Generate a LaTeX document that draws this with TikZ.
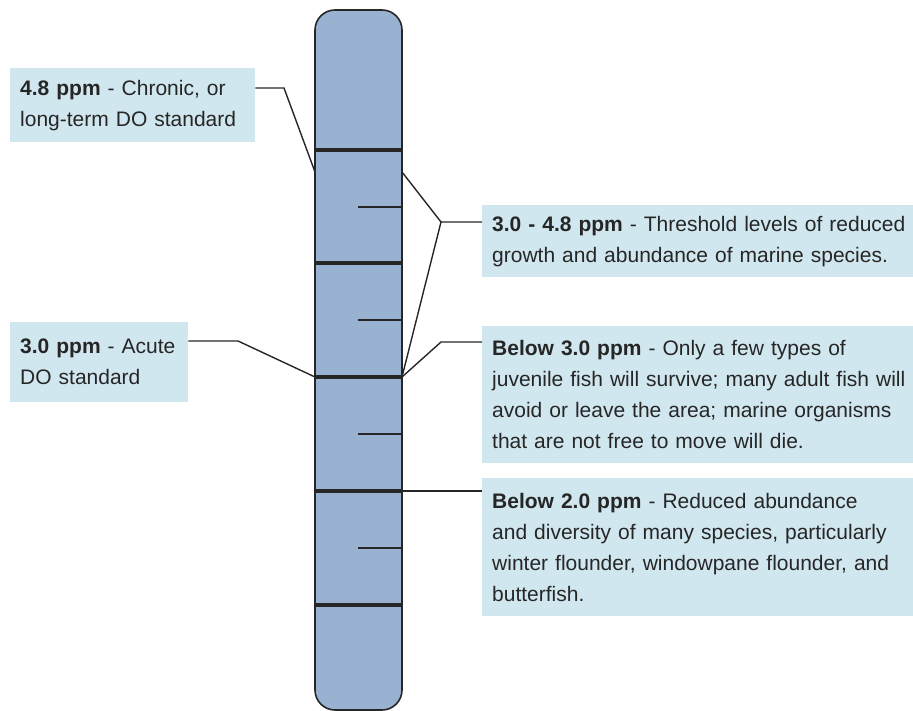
\documentclass[tikz,border=0pt]{standalone}
\usepackage{fontspec}
\setmainfont{Liberation Sans}
\definecolor{tube}{HTML}{99B2D1}
\definecolor{infobg}{HTML}{D1E7EF}
\definecolor{ink}{HTML}{262626}
\tikzset{
  infobox/.style={fill=infobg, anchor=north west, inner xsep=10pt, inner ysep=0pt,
                  align=left, text=ink, font=\fontsize{21}{31}\selectfont},
  column/.style={fill=tube, draw=ink, line width=1.6pt, rounded corners=20pt,
                 anchor=north west, outer sep=0pt, minimum width=87pt, minimum height=700pt},
  level/.style={line width=3.4pt, draw=ink},
  tick/.style={line width=1.4pt, draw=ink},
  link/.style={line width=1.4pt, draw=ink}
}
\begin{document}
\begin{tikzpicture}[x=1pt, y=-1pt]
      \useasboundingbox (0, 0) rectangle (913, 711);
      % the oxygen column
      \node[column] (column) at (315, 10) {};
      \foreach \y in {150, 263, 377, 491, 605}
        \draw[level] (column.west |- 0, \y) -- (column.east |- 0, \y);
      \foreach \y in {207, 320, 434, 548}
        \draw[tick] (358, \y) -- (column.east |- 0, \y);
      % labels
      \node[infobox, minimum width=245pt, minimum height=74pt, text width=225pt] (chronic) at (10, 68)
        {\textbf{4.8 ppm} - Chronic, or\\long-term DO standard};
      \node[infobox, minimum width=178pt, minimum height=80pt, text width=158pt] (acute) at (10, 322)
        {\textbf{3.0 ppm} - Acute\\DO standard};
      \node[infobox, minimum width=440pt, minimum height=72pt, text width=420pt] (threshold) at (482, 205)
        {\textbf{3.0 - 4.8 ppm} - Threshold levels of reduced\\growth and abundance of marine species.};
      \node[infobox, minimum width=440pt, minimum height=137pt, text width=420pt] (belowthree) at (482, 326)
        {\textbf{Below 3.0 ppm} - Only a few types of\\juvenile fish will survive; many adult fish will\\avoid or leave the area; marine organisms\\that are not free to move will die.};
      \node[infobox, minimum width=440pt, minimum height=138pt, text width=420pt] (belowtwo) at (482, 478)
        {\textbf{Below 2.0 ppm} - Reduced abundance\\and diversity of many species, particularly\\winter flounder, windowpane flounder, and\\butterfish.};
      % connectors
      \coordinate (k48) at (284, 88);
      \coordinate (m48) at (315, 172);
      \coordinate (k30) at (238, 341);
      \coordinate (m30) at (315, 377);
      \coordinate (kth) at (441, 222);
      \coordinate (kb3) at (441, 342);
      \coordinate (r48) at (402, 172);
      \coordinate (r30) at (402, 377);
      \coordinate (r20) at (402, 491);
      \draw[link] (chronic.east |- k48) -- (k48) -- (m48);
      \draw[link] (acute.east |- k30) -- (k30) -- (m30);
      \draw[link] (threshold.west |- kth) -- (kth) -- (r48);
      \draw[link] (kth) -- (r30);
      \draw[link] (belowthree.west |- kb3) -- (kb3) -- (r30);
      \draw[link] (r20) -- (belowtwo.west |- r20);
    \end{tikzpicture}
\end{document}
